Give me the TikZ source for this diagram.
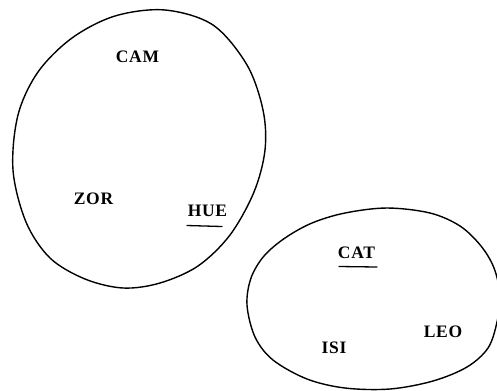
\documentclass[tikz,border=0pt]{standalone}
\usepackage{fontspec}
\setmainfont{Liberation Serif}[LetterSpace=4]
\begin{document}
\begin{tikzpicture}[x=1bp,y=-1bp,
  lab/.style={font=\fontsize{17.5bp}{20bp}\selectfont\bfseries, inner sep=0pt},
  curve/.style={line width=1.4bp, line join=round},
  ul/.style={line width=1.3bp, line cap=round}]
\useasboundingbox (0,0) rectangle (497,390);
% left set
\draw[curve] plot[smooth cycle, tension=0.55] coordinates {
 (13,170) (18,115) (38,72) (72,38) (115,16) (165,10) (213,25) (247,65)
 (263,110) (265,150) (254,192) (230,235) (198,266) (160,283) (123,288)
 (85,279) (50,258) (26,222)};
% right set
\draw[curve] plot[smooth cycle, tension=0.55] coordinates {
 (247,305) (251,278) (264,256) (285,238) (312,223) (345,213) (387,208)
 (430,213) (460,226) (481,246) (494,268) (500,295) (497,322) (488,348)
 (467,367) (433,381) (390,389) (345,388) (307,379) (273,360) (255,337)};
\node[lab] (cam) at (137.5,57) {CAM};
\node[lab] (zor) at (93.5,198.5) {ZOR};
\node[lab] (hue) at (207.5,211) {HUE};
\node[lab] (cat) at (356.5,252.5) {CAT};
\node[lab] (isi) at (334,348) {ISI};
\node[lab] (leo) at (443,331.5) {LEO};
\coordinate (hueA) at (187,225.5);
\coordinate (hueB) at (222,226.5);
\coordinate (catA) at (339,266.5);
\coordinate (catB) at (377,267);
\draw[ul] (hueA) -- (hueB);
\draw[ul] (catA) -- (catB);
\end{tikzpicture}
\end{document}
